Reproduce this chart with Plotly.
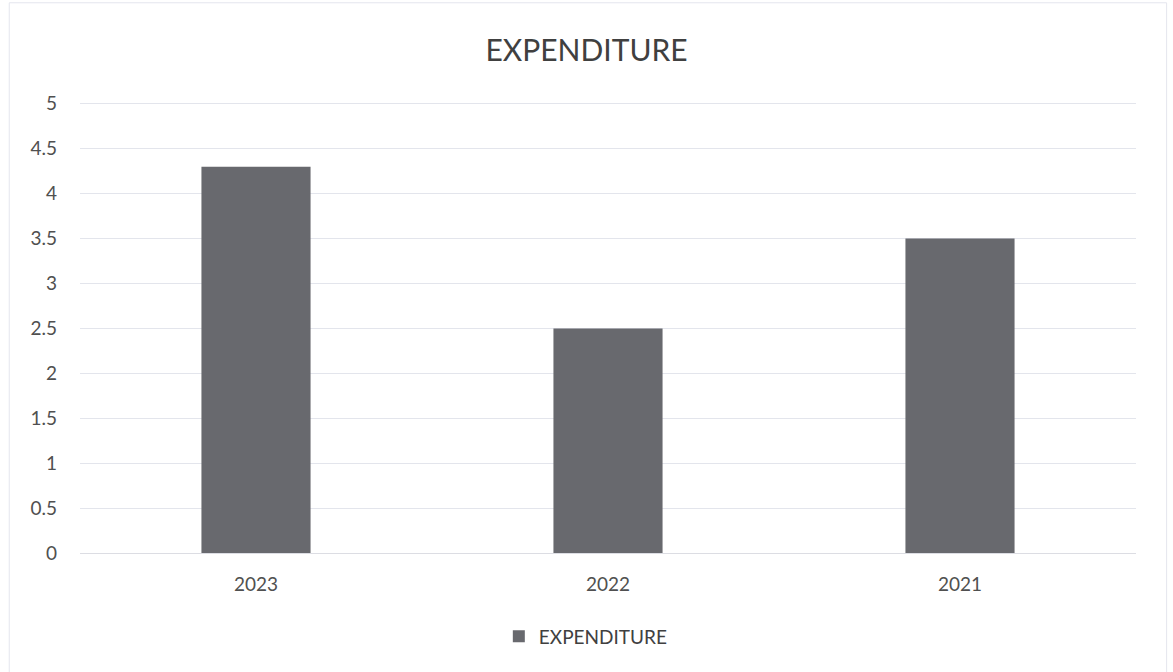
import plotly.graph_objects as go

# Annual expenditure by year
years = ["2023", "2022", "2021"]
expenditure = [4.3, 2.5, 3.5]
y_ticks = [0, 0.5, 1, 1.5, 2, 2.5, 3, 3.5, 4, 4.5, 5]
y_tick_labels = ["0", "0.5", "1", "1.5", "2", "2.5", "3", "3.5", "4", "4.5", "5"]

text_color = "#505050"
font_family = "Lato, 'Open Sans', sans-serif"

fig = go.Figure(
    go.Bar(
        x=years,
        y=expenditure,
        name="EXPENDITURE",
        marker=dict(color="#68696e", line=dict(width=0)),
        width=0.31,
    )
)

fig.update_layout(
    width=1173,
    height=672,
    margin=dict(l=80, r=37, t=102, b=119),
    paper_bgcolor="white",
    plot_bgcolor="white",
    font=dict(family=font_family, color=text_color, size=19),
    title=dict(
        text="EXPENDITURE",
        x=0.5,
        xanchor="center",
        y=0.925,
        yanchor="middle",
        font=dict(size=30, color="#404040", family=font_family),
    ),
    showlegend=True,
    legend=dict(
        orientation="h",
        x=0.479,
        xanchor="center",
        y=-0.185,
        yanchor="middle",
        itemwidth=30,
        font=dict(size=19, color="#404040"),
    ),
    bargap=0.69,
    shapes=[
        dict(
            type="rect",
            xref="paper",
            yref="paper",
            x0=-0.067,
            x1=1.029,
            y0=-0.34,
            y1=1.22,
            line=dict(color="#e4e6ee", width=1),
            fillcolor="rgba(0,0,0,0)",
            layer="below",
        )
    ],
)

fig.update_xaxes(
    showgrid=False,
    showline=True,
    linecolor="#dcdde3",
    linewidth=1,
    ticks="",
    ticklabelstandoff=14,
    tickfont=dict(size=19, color=text_color),
)

fig.update_yaxes(
    range=[0, 5.02],
    tickvals=y_ticks,
    ticktext=y_tick_labels,
    showgrid=True,
    gridcolor="#e3e5ec",
    gridwidth=1,
    zeroline=False,
    showline=False,
    ticks="",
    ticklabelstandoff=22,
    tickfont=dict(size=19, color=text_color),
)

fig.write_html("out.html")
